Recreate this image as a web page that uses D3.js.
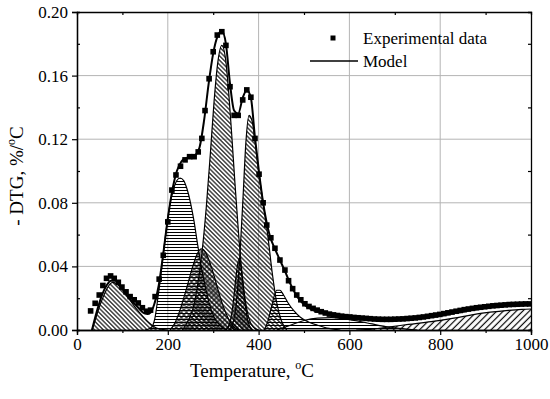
<!DOCTYPE html>
<html>
<head>
<meta charset="utf-8">
<script src="https://cdnjs.cloudflare.com/ajax/libs/d3/7.8.5/d3.min.js"></script>
<style>
    body { margin: 0; background: #fff; }
    svg, svg text { font-family: "Liberation Serif", "Times New Roman", serif; }
</style>
</head>
<body>
<div id="chart"></div>
<script>

// experimental DTG points (temperature in C, -DTG in %/C)
var expTemp = [30, 40, 49, 57, 65, 74, 82, 91, 99, 108, 117, 126, 135, 144, 153, 162, 172, 181, 190, 200,
    209, 218, 228, 238, 248, 258, 267, 275, 282, 291, 300, 309, 319, 328, 337, 346, 355, 365, 374, 383,
    392, 401, 410, 418, 427, 436, 447, 458, 466, 475, 484, 493, 502, 511, 520, 529, 538, 547, 556, 565,
    574, 583, 592, 601, 610, 619, 628, 637, 646, 655, 664, 673, 682, 691, 700, 709, 718, 727, 736, 745,
    754, 763, 772, 781, 790, 799, 808, 817, 826, 835, 844, 853, 862, 871, 880, 889, 898, 907, 916, 925,
    934, 943, 952, 961, 970, 979, 988, 997];
var expDtg = [0.012, 0.0168, 0.022, 0.028, 0.0325, 0.034, 0.0325, 0.030, 0.027, 0.024, 0.021, 0.019, 0.017, 0.014, 0.0118, 0.0125, 0.021, 0.032, 0.047, 0.068,
    0.088, 0.0975, 0.103, 0.107, 0.109, 0.109, 0.112, 0.1205, 0.138, 0.158, 0.175, 0.1855, 0.1876, 0.179, 0.153, 0.135, 0.135, 0.1447, 0.151, 0.1464,
    0.1205, 0.098, 0.080, 0.066, 0.058, 0.0514, 0.044, 0.0377, 0.031, 0.026, 0.022, 0.019, 0.0165, 0.0148, 0.0136, 0.0125, 0.0115, 0.0107, 0.0100, 0.0095,
    0.0091, 0.0087, 0.0084, 0.0082, 0.0079, 0.0077, 0.0075, 0.0073, 0.0071, 0.0069, 0.0068, 0.0067, 0.0067, 0.0067, 0.0068, 0.0069, 0.0070, 0.0072, 0.0074, 0.0076,
    0.0079, 0.0082, 0.0086, 0.0090, 0.0094, 0.0098, 0.0103, 0.0108, 0.0113, 0.0118, 0.0123, 0.0128, 0.0132, 0.0136, 0.0140, 0.0143, 0.0146, 0.0149, 0.0152, 0.0154,
    0.0156, 0.0158, 0.0160, 0.0161, 0.0162, 0.0163, 0.0164, 0.0164];

// fitted model curve
var modelTemp = [33, 45, 55, 65, 75, 85, 95, 105, 115, 125, 135, 145, 155, 162, 170, 180, 190, 200, 210, 220,
    230, 240, 250, 260, 270, 280, 290, 300, 310, 319, 328, 337, 346, 355, 365, 374, 383, 392, 401, 410,
    425, 436, 447, 458, 470, 485, 500, 520, 550, 580, 620, 660, 700, 740, 800, 850, 900, 950, 1000];
var modelDtg = [0.0, 0.013, 0.022, 0.028, 0.031, 0.031, 0.028, 0.024, 0.020, 0.017, 0.014, 0.011, 0.010, 0.011, 0.016, 0.028, 0.048, 0.070, 0.088, 0.100,
    0.106, 0.108, 0.109, 0.110, 0.115, 0.132, 0.155, 0.174, 0.185, 0.188, 0.180, 0.155, 0.138, 0.136, 0.146, 0.151, 0.146, 0.121, 0.099, 0.080,
    0.059, 0.051, 0.044, 0.037, 0.029, 0.021, 0.016, 0.0125, 0.0100, 0.0088, 0.0078, 0.0070, 0.0070, 0.0073, 0.0090, 0.0115, 0.0140, 0.0155, 0.0160];

// deconvoluted component peaks [temperature, -DTG]
var peak1 = [[33, 0], [42, 0.008], [50, 0.015], [58, 0.021], [66, 0.026], [73, 0.029], [79, 0.030], [86, 0.0293], [95, 0.027],
    [105, 0.0235], [115, 0.0195], [125, 0.0155], [135, 0.0118], [145, 0.0085], [155, 0.0055], [165, 0.003], [175, 0.0013], [190, 0.0003], [200, 0]];
var peak2 = [[150, 0], [160, 0.001], [165, 0.002], [172, 0.008], [179, 0.022], [185, 0.035], [190, 0.048], [197, 0.064], [204, 0.078], [212, 0.088],
    [220, 0.094], [227, 0.0956], [235, 0.094], [242, 0.089], [250, 0.080], [258, 0.068], [265, 0.055], [273, 0.041], [282, 0.028], [292, 0.016],
    [302, 0.008], [315, 0.003], [330, 0]];
var peak3 = [[205, 0], [215, 0.004], [225, 0.011], [235, 0.020], [245, 0.030], [255, 0.040], [265, 0.048], [274, 0.051], [283, 0.049],
    [292, 0.043], [302, 0.034], [312, 0.024], [322, 0.015], [332, 0.008], [342, 0.003], [355, 0]];
var peak4 = [[232, 0], [245, 0.006], [255, 0.013], [265, 0.027], [275, 0.048], [285, 0.078], [294, 0.112], [302, 0.144], [310, 0.168],
    [319, 0.179], [327, 0.171], [334, 0.150], [341, 0.122], [348, 0.092], [355, 0.064], [362, 0.040], [370, 0.020], [378, 0.008], [388, 0.002], [400, 0]];
var peak5 = [[328, 0], [337, 0.005], [344, 0.017], [350, 0.033], [357, 0.045], [364, 0.033], [370, 0.017], [377, 0.005], [386, 0]];
var peak6 = [[335, 0], [345, 0.006], [352, 0.020], [359, 0.048], [366, 0.085], [372, 0.118], [379, 0.135], [386, 0.131], [393, 0.117],
    [400, 0.100], [410, 0.080], [420, 0.060], [430, 0.036], [440, 0.017], [450, 0.006], [462, 0]];
var peak7 = [[412, 0], [420, 0.005], [428, 0.014], [434, 0.021], [440, 0.025], [447, 0.025], [455, 0.022], [465, 0.017], [478, 0.012],
    [492, 0.008], [510, 0.005], [530, 0.003], [555, 0.001], [580, 0]];
var peak8 = [[440, 0], [470, 0.003], [500, 0.006], [530, 0.0075], [560, 0.0078], [590, 0.007], [620, 0.0055], [650, 0.0038], [680, 0.0022], [710, 0.001], [750, 0]];
var peak9 = [[615, 0], [650, 0.0006], [690, 0.002], [730, 0.0035], [780, 0.0053], [830, 0.0075], [870, 0.0095], [910, 0.0112], [950, 0.0124], [980, 0.013], [1000, 0.0132]];

// axis ticks
var xMajorTicks = [0, 200, 400, 600, 800, 1000];
var xMinorTicks = [100, 300, 500, 700, 900];
var yMajorTicks = [0, 0.04, 0.08, 0.12, 0.16, 0.20];
var yMinorTicks = [0.02, 0.06, 0.10, 0.14, 0.18];
var xGrid = [200, 400, 600, 800];
var yGrid = [0.04, 0.08, 0.12, 0.16];

var serif = "Liberation Serif";


DtgChart = function(_parentElement) {
    this.parentElement = _parentElement;
    this.initVis();
};

DtgChart.prototype.initVis = function() {
    var vis = this;

    vis.margin = {top: 12, right: 19, bottom: 69, left: 77};
    vis.width = 550 - vis.margin.left - vis.margin.right;
    vis.height = 399 - vis.margin.top - vis.margin.bottom;

    vis.x = d3.scaleLinear().domain([0, 1000]).range([0, vis.width]);
    vis.y = d3.scaleLinear().domain([0, 0.2]).range([vis.height, 0]);

    vis.svg = d3.select(vis.parentElement)
        .append("svg")
        .attr("width", 550)
        .attr("height", 399);

    vis.chart = vis.svg.append("g")
        .attr("transform", "translate(" + vis.margin.left + "," + vis.margin.top + ")");

    var defs = vis.svg.append("defs");

    defs.append("clipPath").attr("id", "plotClip")
        .append("rect")
        .attr("width", vis.width)
        .attr("height", vis.height);

    // hatch patterns: back diagonal, forward diagonal, horizontal, cross
    function linePattern(id, size, angle, cross, sw) {
        var p = defs.append("pattern")
            .attr("id", id)
            .attr("patternUnits", "userSpaceOnUse")
            .attr("width", size)
            .attr("height", size)
            .attr("patternTransform", "rotate(" + angle + ")");
        p.append("line")
            .attr("x1", 0).attr("y1", size / 2)
            .attr("x2", size).attr("y2", size / 2)
            .attr("stroke", "#000").attr("stroke-width", sw);
        if (cross) {
            p.append("line")
                .attr("x1", size / 2).attr("y1", 0)
                .attr("x2", size / 2).attr("y2", size)
                .attr("stroke", "#000").attr("stroke-width", sw);
        }
    }
    linePattern("hBack", 3.1, 45, false, 1.1);
    linePattern("hFwd", 4.6, -45, false, 1.2);
    linePattern("hHoriz", 3, 0, false, 1);
    linePattern("hCross", 3.6, 45, true, 0.9);

    vis.wrangleData();
};

DtgChart.prototype.wrangleData = function() {
    var vis = this;

    vis.expData = expTemp.map(function(t, i) { return {t: t, v: expDtg[i]}; });
    vis.modelData = modelTemp.map(function(t, i) { return {t: t, v: modelDtg[i]}; });

    vis.components = [
        {pts: peak1, fill: "hBack"},
        {pts: peak2, fill: "hHoriz"},
        {pts: peak3, fill: "hCross"},
        {pts: peak4, fill: "hBack"},
        {pts: peak5, fill: "hCross"},
        {pts: peak6, fill: "hBack"},
        {pts: peak7, fill: "hHoriz"},
        {pts: peak8, fill: "hHoriz"},
        {pts: peak9, fill: "hFwd"}
    ];

    vis.updateVis();
};

DtgChart.prototype.updateVis = function() {
    var vis = this;

    // grid
    vis.chart.selectAll(".gridx")
        .data(xGrid)
        .enter().append("line")
        .attr("class", "gridx")
        .attr("x1", function(d) { return vis.x(d); })
        .attr("x2", function(d) { return vis.x(d); })
        .attr("y1", 0)
        .attr("y2", vis.height)
        .attr("stroke", "#b4b4b4")
        .attr("stroke-width", 1);

    vis.chart.selectAll(".gridy")
        .data(yGrid)
        .enter().append("line")
        .attr("class", "gridy")
        .attr("x1", 0)
        .attr("x2", vis.width)
        .attr("y1", function(d) { return vis.y(d); })
        .attr("y2", function(d) { return vis.y(d); })
        .attr("stroke", "#b4b4b4")
        .attr("stroke-width", 1);

    var plot = vis.chart.append("g").attr("clip-path", "url(#plotClip)");

    var area = d3.area()
        .x(function(d) { return vis.x(d[0]); })
        .y0(vis.y(0))
        .y1(function(d) { return vis.y(d[1]); })
        .curve(d3.curveMonotoneX);

    var outline = d3.line()
        .x(function(d) { return vis.x(d[0]); })
        .y(function(d) { return vis.y(d[1]); })
        .curve(d3.curveMonotoneX);

    plot.selectAll(".peak")
        .data(vis.components)
        .enter().append("path")
        .attr("class", "peak")
        .attr("d", function(d) { return area(d.pts); })
        .attr("fill", function(d) { return "url(#" + d.fill + ")"; });

    plot.selectAll(".peakLine")
        .data(vis.components)
        .enter().append("path")
        .attr("class", "peakLine")
        .attr("d", function(d) { return outline(d.pts); })
        .attr("fill", "none")
        .attr("stroke", "#000")
        .attr("stroke-width", 1.2);

    // experimental markers
    plot.selectAll(".pt")
        .data(vis.expData)
        .enter().append("rect")
        .attr("class", "pt")
        .attr("x", function(d) { return vis.x(d.t) - 2.8; })
        .attr("y", function(d) { return vis.y(d.v) - 2.8; })
        .attr("width", 5.6)
        .attr("height", 5.6)
        .attr("fill", "#000");

    // model line
    var modelLine = d3.line()
        .x(function(d) { return vis.x(d.t); })
        .y(function(d) { return vis.y(d.v); })
        .curve(d3.curveMonotoneX);

    plot.append("path")
        .datum(vis.modelData)
        .attr("d", modelLine)
        .attr("fill", "none")
        .attr("stroke", "#000")
        .attr("stroke-width", 2);

    // axes
    var fmtY = d3.format(".2f");

    vis.chart.append("g")
        .attr("class", "axis")
        .attr("transform", "translate(0," + vis.height + ")")
        .call(d3.axisBottom(vis.x).tickValues(xMajorTicks).tickSize(5).tickPadding(3).tickFormat(d3.format("d")));

    vis.chart.append("g")
        .attr("class", "axis")
        .attr("transform", "translate(0," + vis.height + ")")
        .call(d3.axisBottom(vis.x).tickValues(xMinorTicks).tickSize(3).tickFormat(""));

    vis.chart.append("g")
        .attr("class", "axis")
        .call(d3.axisLeft(vis.y).tickValues(yMajorTicks).tickSize(5).tickPadding(4).tickFormat(fmtY));

    vis.chart.append("g")
        .attr("class", "axis")
        .call(d3.axisLeft(vis.y).tickValues(yMinorTicks).tickSize(-3).tickFormat(""));

    vis.chart.append("g")
        .attr("class", "axis")
        .call(d3.axisTop(vis.x).tickValues(xMinorTicks).tickSize(-3).tickFormat(""));

    vis.chart.append("g")
        .attr("class", "axis")
        .attr("transform", "translate(" + vis.width + ",0)")
        .call(d3.axisRight(vis.y).tickValues(yMinorTicks).tickSize(-3).tickFormat(""));

    vis.chart.selectAll(".axis text")
        .style("font-family", serif)
        .style("font-size", "17px")
        .attr("fill", "#000");
    vis.chart.selectAll(".axis line").attr("stroke", "#000").attr("stroke-width", 1.2);
    vis.chart.selectAll(".axis .domain").attr("stroke", "#000").attr("stroke-width", 1.3);

    // axis titles
    var xTitle = vis.svg.append("text")
        .attr("x", 190)
        .attr("y", 377)
        .style("font-family", serif)
        .attr("font-size", 19)
        .text("Temperature, ");
    xTitle.append("tspan").attr("font-size", 12).attr("dy", -8).text("o");
    xTitle.append("tspan").attr("dy", 8).text("C");

    var yTitle = vis.svg.append("text")
        .attr("transform", "translate(23,176) rotate(-90)")
        .attr("text-anchor", "middle")
        .style("font-family", serif)
        .attr("font-size", 19)
        .text("- DTG, %/");
    yTitle.append("tspan").attr("font-size", 12).attr("dy", -8).text("o");
    yTitle.append("tspan").attr("dy", 8).text("C");

    // legend
    vis.svg.append("rect")
        .attr("x", 330.5).attr("y", 35.5)
        .attr("width", 5).attr("height", 5)
        .attr("fill", "#000");
    vis.svg.append("text")
        .attr("x", 363).attr("y", 44)
        .style("font-family", serif)
        .attr("font-size", 17)
        .text("Experimental data");
    vis.svg.append("line")
        .attr("x1", 310).attr("x2", 358)
        .attr("y1", 61).attr("y2", 61)
        .attr("stroke", "#000").attr("stroke-width", 1.5);
    vis.svg.append("text")
        .attr("x", 363).attr("y", 67)
        .style("font-family", serif)
        .attr("font-size", 17)
        .text("Model");
};

var dtgChart = new DtgChart("#chart");

</script>
</body>
</html>
